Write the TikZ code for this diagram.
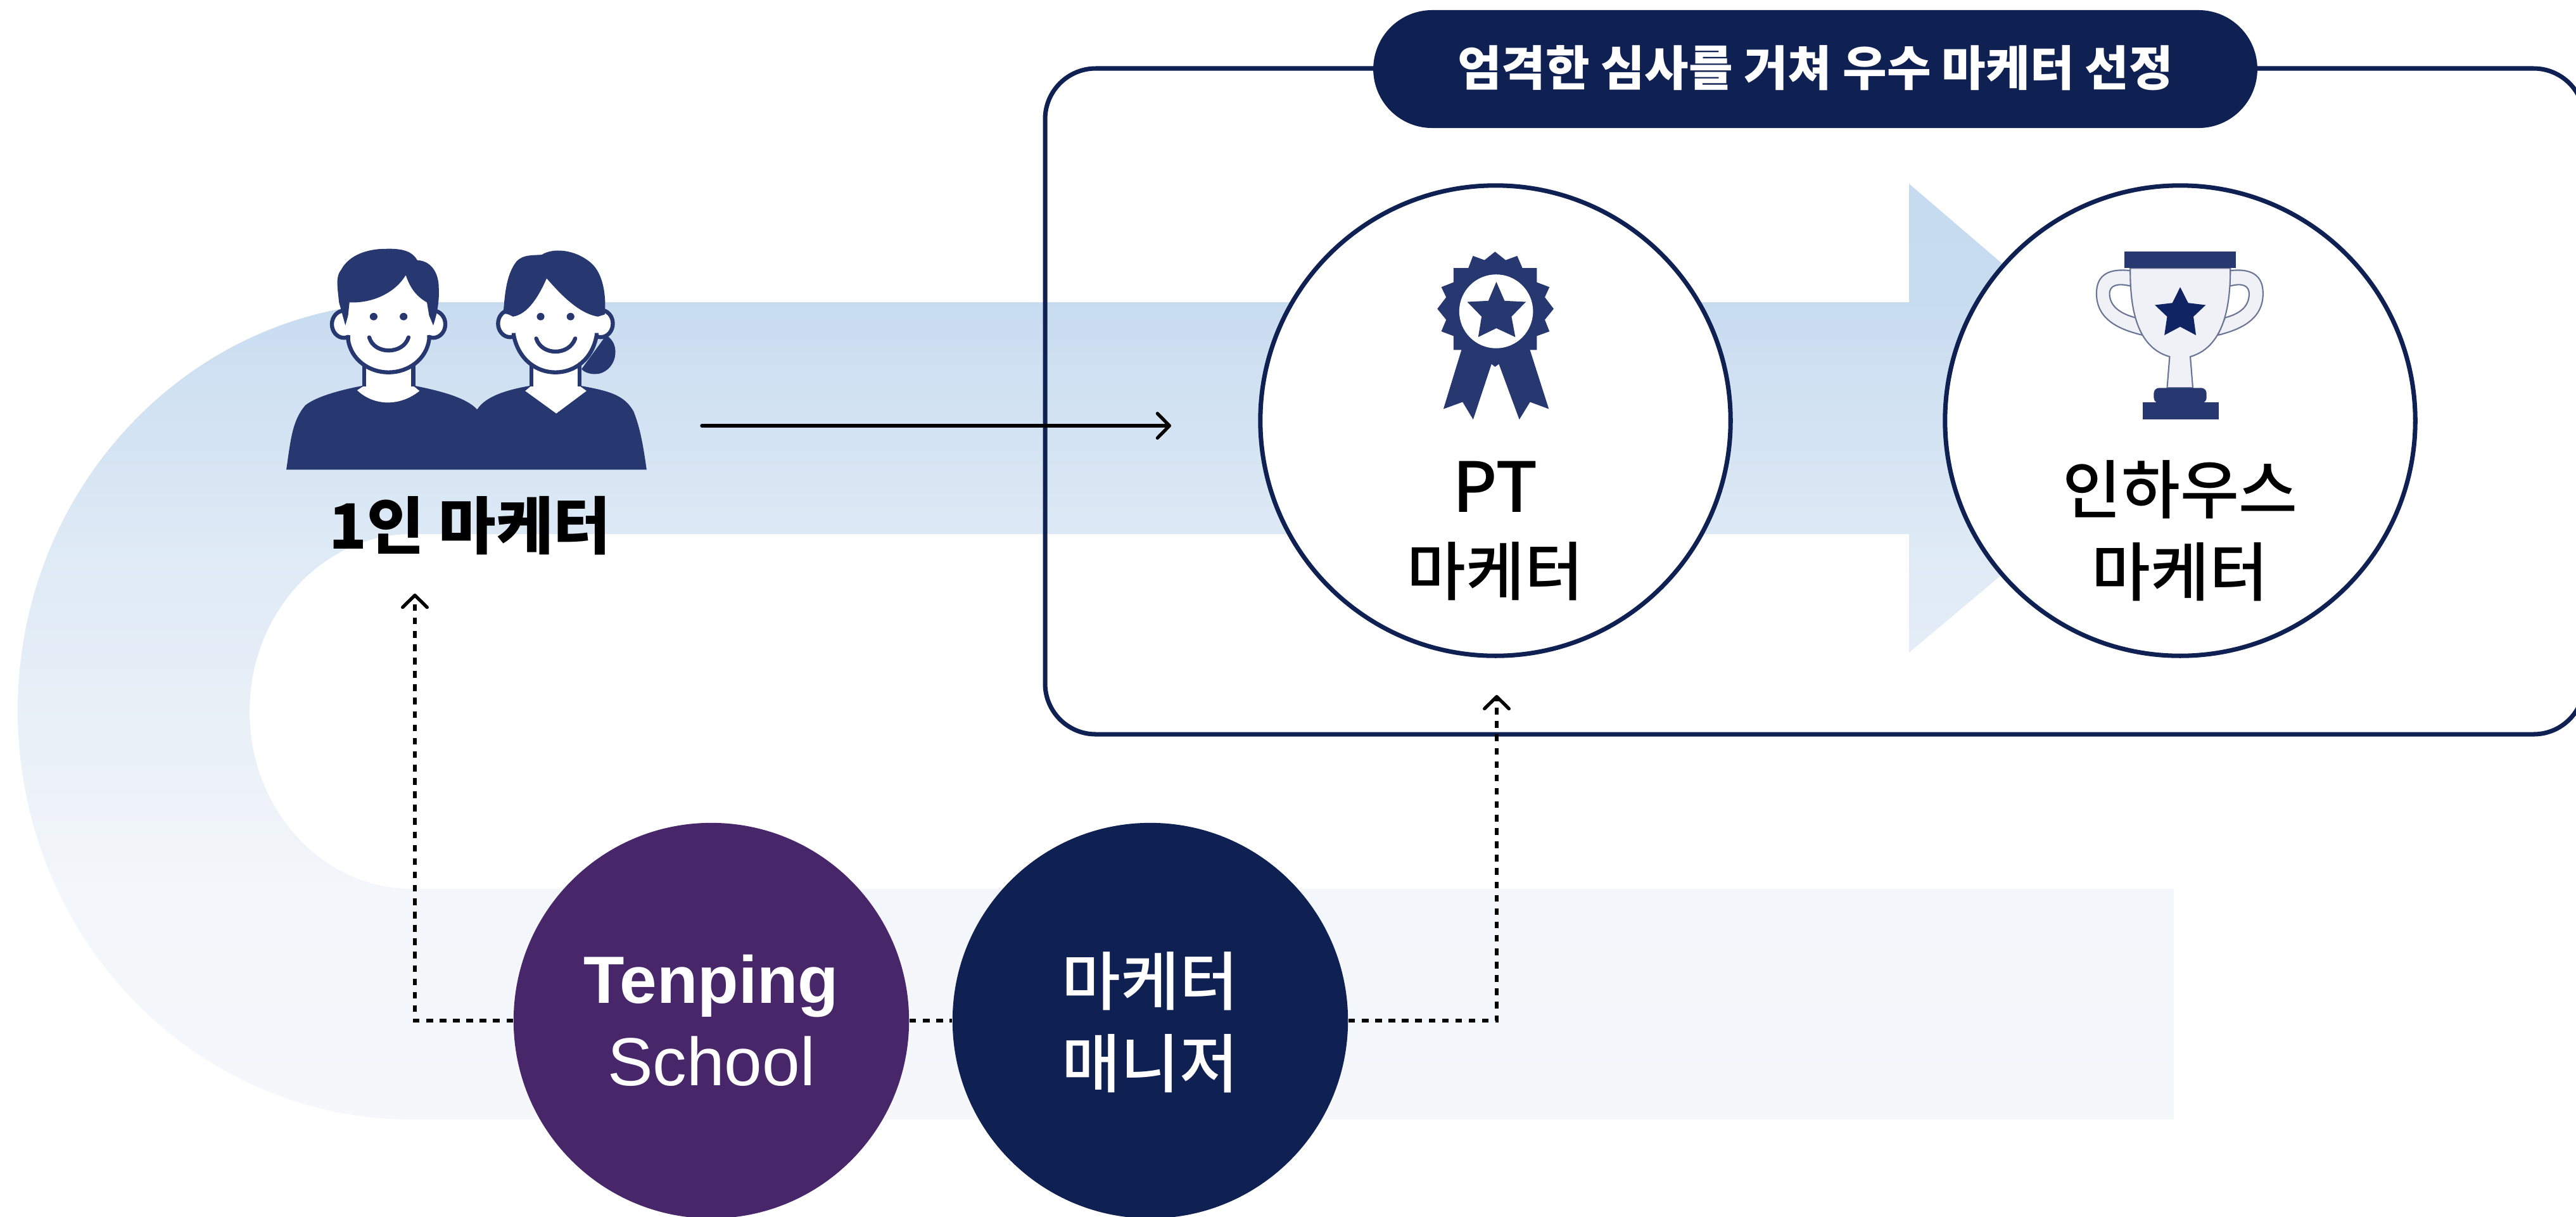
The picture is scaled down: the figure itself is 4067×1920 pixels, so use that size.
\documentclass[tikz,border=0pt]{standalone}
\usepackage{fontspec}
\setmainfont{Noto Sans CJK KR}
\newfontfamily\medf{Noto Sans CJK KR Medium}
\newfontfamily\latinf{Liberation Sans}
\usetikzlibrary{arrows.meta}
\definecolor{navy}{HTML}{0F2052}
\definecolor{icon}{HTML}{26386F}
\definecolor{darkstar}{HTML}{102464}
\definecolor{purp}{HTML}{48266A}
\definecolor{cupfill}{HTML}{EFF1F6}
\definecolor{cupline}{HTML}{6A7596}
\definecolor{fa}{HTML}{F5F7FB}
\definecolor{fb}{HTML}{F3F6FA}
\definecolor{fc}{HTML}{DDE9F5}
\definecolor{fd}{HTML}{C8DCF0}
\definecolor{fe}{HTML}{C6DBEF}
\pgfdeclareverticalshading{bandfade}{100bp}{
 color(0bp)=(fa);color(25bp)=(fa);color(37.3bp)=(fb);
 color(56.3bp)=(fc);color(68.7bp)=(fd);color(75bp)=(fe);color(100bp)=(fe)}
\tikzset{
 ringc/.style={circle,draw=navy,line width=2pt,fill=white,minimum size=7.42cm,inner sep=0pt},
 solidc/.style={circle,minimum size=6.24cm,inner sep=0pt},
 lab/.style={align=center,inner sep=0pt,font=\medf\fontsize{28.7}{37}\selectfont},
 conn/.style={line width=1.5pt,line cap=round,-{Straight Barb[length=5.4pt,width=11pt,line width=1.5pt,round]}},
 dashc/.style={line width=1.5pt,dash pattern=on 3pt off 3pt},
 dashar/.style={dashc,-{Straight Barb[length=5.4pt,width=11pt,line width=1.5pt,round]}},
 iconline/.style={draw=icon,line width=1.8pt,fill=white},
}
\begin{document}
\begin{tikzpicture}[x=0.01cm,y=-0.01cm]
\useasboundingbox (0,0) rectangle (4067,1920);
\fill[white] (0,0) rectangle (4067,1920);
% band
\shade[shading=bandfade] (650,477) -- (3014,477) -- (3014,290) -- (3450,664) -- (3014,1030) -- (3014,843) -- (650,843)
 .. controls (509,843) and (394,968) .. (394,1123)
 .. controls (394,1278) and (509,1403) .. (650,1403)
 -- (3432,1403) -- (3432,1767) -- (650,1767)
 .. controls (306,1767) and (28,1478) .. (28,1122)
 .. controls (28,766) and (306,477) .. (650,477) -- cycle;
% box
\draw[navy,line width=2pt,rounded corners=0.8cm] (1650,108) rectangle (4080,1159);
% people
\begin{scope}[shift={(400,360)},x=0.004337cm,y=-0.00345cm]
 \fill[icon] (120,1105) .. controls (135,980) and (140,880) .. (190,810)
  .. controls (230,770) and (320,740) .. (395,722) -- (590,722)
  .. controls (680,745) and (775,775) .. (815,830)
  .. controls (840,780) and (900,745) .. (1005,722) -- (1195,722)
  .. controls (1290,745) and (1350,760) .. (1385,840)
  .. controls (1410,920) and (1420,1000) .. (1432,1105) -- cycle;
 % necks
 \fill[white] (378,742) -- (403,722) -- (403,620) -- (582,620) -- (582,722) -- (605,745)
  .. controls (570,780) and (530,798) .. (490,798) .. controls (450,798) and (410,780) .. (378,742) -- cycle;
 \draw[icon,line width=1.8pt] (403,725) -- (403,620) (582,725) -- (582,620);
 \fill[white] (990,745) -- (1012,722) -- (1012,620) -- (1188,620) -- (1188,722) -- (1213,745) -- (1103,848) -- cycle;
 \draw[icon,line width=1.8pt] (1012,725) -- (1012,620) (1188,725) -- (1188,620);
 % bun
 \fill[icon] (1285,490) .. controls (1310,510) and (1320,540) .. (1318,575)
  .. controls (1315,630) and (1280,668) .. (1245,668) .. controls (1225,668) and (1205,660) .. (1195,645) -- cycle;
 % ears and heads
 \foreach \cx/\ey in {330/440,655/440,935/437,1265/437} \draw[iconline] (\cx,\ey) ellipse [x radius=44,y radius=62];
 \fill[white] (345,300) -- (345,510) .. controls (355,600) and (420,660) .. (492,660)
   .. controls (565,660) and (630,600) .. (640,510) -- (640,300) -- cycle;
 \draw[icon,line width=1.8pt] (345,490) -- (345,510) .. controls (355,600) and (420,660) .. (492,660)
   .. controls (565,660) and (630,600) .. (640,510) -- (640,490);
 \fill[white] (948,300) -- (948,490) .. controls (965,600) and (1030,660) .. (1100,660)
   .. controls (1170,660) and (1235,600) .. (1250,490) -- (1250,300) -- cycle;
 \draw[icon,line width=1.8pt] (948,480) -- (948,490) .. controls (965,600) and (1030,660) .. (1100,660)
   .. controls (1170,660) and (1235,600) .. (1250,490) -- (1250,480);
 % hair
 \fill[icon] (335,445) -- (312,340) .. controls (305,260) and (300,220) .. (320,190)
  .. controls (350,120) and (420,95) .. (480,95) .. controls (550,92) and (580,110) .. (597,147)
  .. controls (650,150) and (675,210) .. (675,270) .. controls (678,330) and (670,390) .. (655,445)
  -- (640,400) -- (632,340) .. controls (590,310) and (570,270) .. (555,215)
  .. controls (520,290) and (440,345) .. (350,340) -- (345,400) -- cycle;
 \fill[icon] (910,395) .. controls (915,310) and (920,210) .. (960,150)
  .. controls (985,120) and (1020,125) .. (1050,122) .. controls (1090,90) and (1170,95) .. (1230,160)
  .. controls (1275,210) and (1285,310) .. (1280,395) -- (1255,405)
  .. controls (1180,390) and (1110,290) .. (1068,230)
  .. controls (1040,310) and (1000,395) .. (945,405) .. controls (930,395) and (920,388) .. (910,395) -- cycle;
 % faces
 \foreach \ex in {438,547,1046,1155} \fill[icon] (\ex,405) ellipse [x radius=14,y radius=17];
 \draw[icon,line width=1.8pt,line cap=round] (422,500) .. controls (440,580) and (545,580) .. (565,500);
 \draw[icon,line width=1.8pt,line cap=round] (1030,505) .. controls (1050,585) and (1150,585) .. (1172,505);
\end{scope}
\node[inner sep=0pt,font=\fontsize{28}{34}\bfseries\selectfont] (solo) at (742,830) {1인 마케터};
% inner circles
\node[ringc] (pt) at (2361,664) {};
\node[ringc] (inh) at (3442,664) {};
% pill
\node[fill=navy,rounded corners=0.93cm,minimum width=13.95cm,minimum height=1.86cm,inner sep=0pt] (pill) at (2866,109) {};
\node[inner sep=0pt,text=white,font=\fontsize{21.5}{26}\bfseries\selectfont] (pilltxt) at (2866,107) {엄격한 심사를 거쳐 우수 마케터 선정};
% medal
\begin{scope}[shift={(2200,360)},x=0.003333cm,y=-0.003333cm]
 \fill[icon] (325,570) -- (237,858) -- (328,825) -- (378,908) -- (465,645) -- (482,658) -- (500,645) -- (597,908) -- (648,825) -- (737,858) -- (645,570) -- cycle;
 \fill[icon] (482,112) -- (532,152) -- (587,132) -- (612,190) -- (680,190) -- (680,257) -- (740,280) -- (718,328) -- (760,383) -- (718,435) -- (740,490) -- (680,512) -- (680,578)
  -- (285,578) -- (285,512) -- (227,490) -- (250,435) -- (208,383) -- (250,328) -- (227,280) -- (285,257) -- (285,190) -- (355,190) -- (377,132) -- (432,152) -- cycle;
 \fill[white] (487,395) circle [radius=175];
 \fill[icon] (488,255) -- (527,345) -- (628,350) -- (560,420) -- (578,517) -- (488,475) -- (402,517) -- (418,420) -- (350,350) -- (450,345) -- cycle;
\end{scope}
% trophy
\begin{scope}[shift={(3260,370)},x=0.003333cm,y=-0.003333cm]
 \filldraw[fill=cupfill,draw=cupline,line width=0.6pt] (312,172) .. controls (210,160) and (150,190) .. (150,280)
  .. controls (150,400) and (250,450) .. (370,478) -- (335,395) .. controls (260,375) and (215,340) .. (212,285)
  .. controls (210,240) and (250,230) .. (312,245) -- cycle;
 \filldraw[fill=cupfill,draw=cupline,line width=0.6pt] (783,172) .. controls (880,160) and (940,190) .. (940,280)
  .. controls (940,400) and (840,450) .. (725,478) -- (760,395) .. controls (835,375) and (872,340) .. (874,285)
  .. controls (875,240) and (840,230) .. (783,245) -- cycle;
 \filldraw[fill=cupfill,draw=cupline,line width=0.6pt] (310,160) .. controls (310,300) and (320,530) .. (497,580) -- (485,728) -- (607,728) -- (595,580)
  .. controls (770,530) and (785,300) .. (785,160) -- cycle;
 \fill[icon] (283,82) rectangle (812,160);
 \fill[icon,rounded corners=2.4pt] (422,800) -- (422,728) -- (672,728) -- (672,800) -- cycle;
 \fill[icon] (368,795) rectangle (730,877);
 \fill[darkstar] (547,250) -- (585,325) -- (668,335) -- (610,390) -- (622,478) -- (547,438) -- (472,478) -- (485,390) -- (427,335) -- (510,325) -- cycle;
\end{scope}
% circle labels
\node[lab] (ptl) at (2361,838) {{\fontsize{31}{37}\selectfont PT}\\마케터};
\node[lab] (inhl) at (3442,838) {인하우스\\마케터};
% bottom circles
\node[solidc,fill=purp] (ten) at (1123,1611) {};
\node[solidc,fill=navy] (mgr) at (1816,1611) {};
\node[lab,text=white] (tenl) at (1123,1611) {{\latinf\bfseries\fontsize{30}{36}\selectfont Tenping}\\{\latinf\fontsize{30.5}{36}\selectfont School}};
\node[lab,text=white] (mgrl) at (1816,1614) {마케터\\매니저};
% connectors
\coordinate (solidstart) at (1108,672);
\coordinate (solidend) at (1849,672);
\coordinate (up1) at (655,937);
\coordinate (up2) at (2363,1097);
\draw[conn] (solidstart) -- (solidend);
\draw[dashar] (ten.west) -| (up1);
\draw[dashc] (ten.east) -- (mgr.west);
\draw[dashar] (mgr.east) -| (up2);
\end{tikzpicture}
\end{document}
